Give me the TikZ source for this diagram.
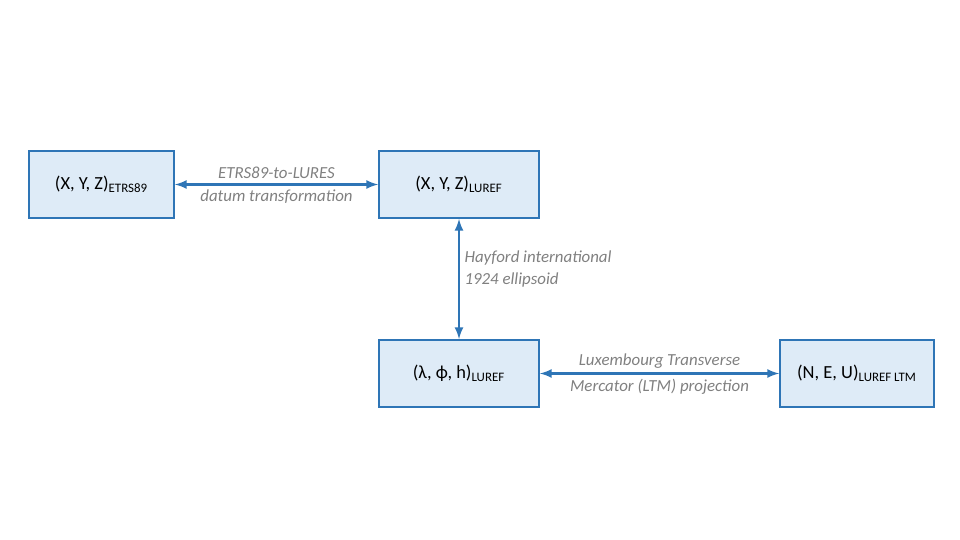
\documentclass[tikz,border=0pt]{standalone}
\usepackage{fontspec}
\setmainfont{Carlito}
\usetikzlibrary{calc}

\definecolor{boxblue}{RGB}{46,117,182}
\definecolor{boxfill}{RGB}{222,235,247}
\definecolor{labelgray}{RGB}{128,128,128}

\tikzset{
    frame/.style={draw=boxblue, fill=boxfill, line width=1.1pt, minimum height=1.34cm, font=\fontsize{10.5}{12.5}\selectfont},
    link/.style={latex-latex, draw=boxblue, line width=1.3pt},
    lbl/.style={align=center, text=labelgray, inner sep=2.5pt, font=\fontsize{9.6}{12.4}\selectfont\itshape}
}

\begin{document}
\begin{tikzpicture}
    \useasboundingbox (0cm,0cm) rectangle (19.2cm,10.8cm);

    \node[frame, minimum width=2.9cm]  (xyzetrs) at (2.03cm,7.11cm)  {(X, Y, Z)\textsubscript{ETRS89}};
    \node[frame, minimum width=3.2cm]  (xyzluref) at (9.18cm,7.11cm) {(X, Y, Z)\textsubscript{LUREF}};
    \node[frame, minimum width=3.2cm]  (geoluref) at (9.18cm,3.33cm) {(λ, ϕ, h)\textsubscript{LUREF}};
    \node[frame, minimum width=3.08cm] (neultm)   at (17.14cm,3.33cm) {(N, E, U)\textsubscript{LUREF LTM}};

    \path (xyzetrs) edge[link]
              node[lbl, above] {ETRS89-to-LURES}
              node[lbl, below] {datum transformation}
          (xyzluref);
    \path (xyzluref) edge[link]
              node[lbl, right, pos=0.42, align=left] {Hayford international\\1924 ellipsoid}
          (geoluref);
    \path (geoluref) edge[link]
              node[lbl, above] {Luxembourg Transverse}
              node[lbl, below] {Mercator (LTM) projection}
          (neultm);
\end{tikzpicture}
\end{document}
